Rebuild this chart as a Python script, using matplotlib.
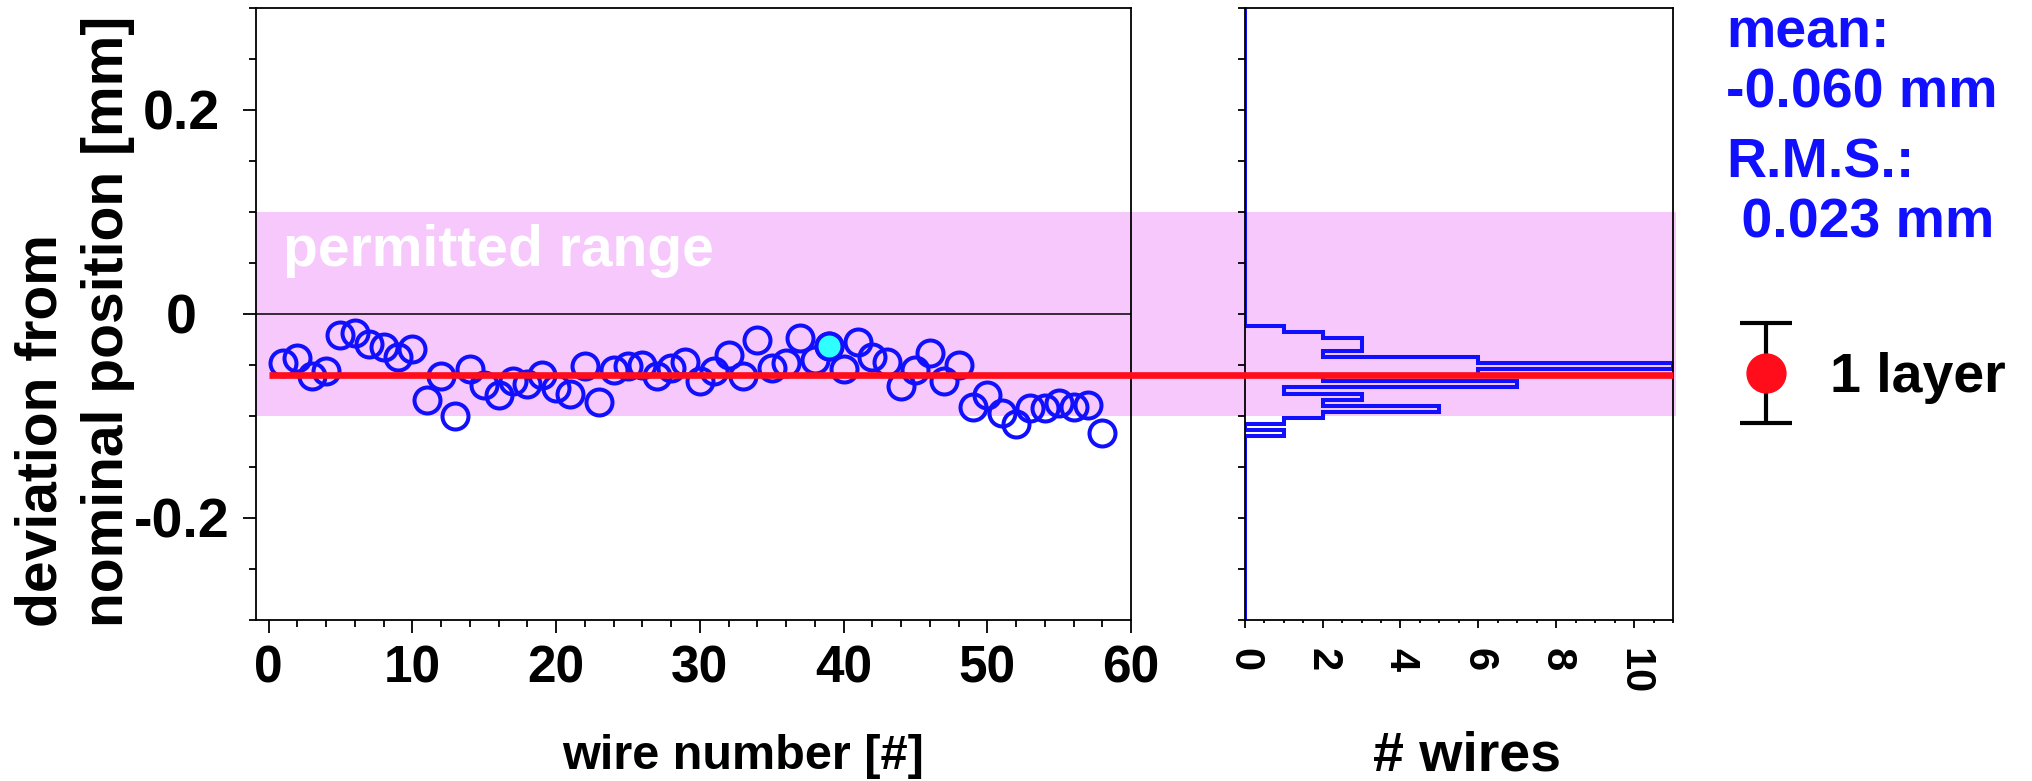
import matplotlib
matplotlib.use('Agg')
import matplotlib.pyplot as plt
import matplotlib.transforms as mtransforms
from matplotlib.lines import Line2D
from matplotlib.patches import Rectangle
from matplotlib.ticker import MultipleLocator
from matplotlib.legend_handler import HandlerErrorbar
import numpy as np

plt.rcParams['font.family'] = ['Liberation Sans', 'DejaVu Sans']
plt.rcParams['font.weight'] = 'bold'
plt.rcParams['axes.labelweight'] = 'bold'

# deviation of each wire from its nominal position [mm]
wire = list(range(1, 59))
deviation = [-0.048, -0.043, -0.061, -0.056, -0.021, -0.019, -0.029, -0.032, -0.042, -0.034,
             -0.084, -0.061, -0.100, -0.054, -0.070, -0.079, -0.066, -0.069, -0.060, -0.073,
             -0.078, -0.051, -0.086, -0.055, -0.051, -0.050, -0.061, -0.053, -0.047, -0.066,
             -0.056, -0.040, -0.061, -0.025, -0.053, -0.048, -0.024, -0.045, -0.031, -0.054,
             -0.027, -0.042, -0.047, -0.071, -0.055, -0.038, -0.066, -0.050, -0.091, -0.079,
             -0.097, -0.108, -0.092, -0.092, -0.087, -0.091, -0.089, -0.117]
highlight_wire = [39]
highlight_dev = [-0.031]

# histogram of the deviations: upper edge of each bin and its count
bin_width = 0.006
hist_top = [-0.012, -0.018, -0.024, -0.030, -0.036, -0.042, -0.048, -0.054, -0.060,
            -0.066, -0.072, -0.078, -0.084, -0.090, -0.096, -0.102, -0.108, -0.114]
hist_count = [1, 2, 3, 3, 2, 6, 11, 6, 2, 7, 1, 3, 2, 5, 2, 1, 0, 1]

mean_dev = -0.060
rms_dev = 0.023
tolerance = 0.1

blue = '#1010FF'
red = '#FF0D1A'
pink = '#F7C8FC'
cyan = '#30FFFF'

W, H = 2033, 781
fig = plt.figure(figsize=(W / 100, H / 100), dpi=100)
ax1 = fig.add_axes([255.7 / W, 161 / H, (1131 - 255.7) / W, 612 / H])
ax2 = fig.add_axes([1244.7 / W, 161 / H, (1673 - 1244.7) / W, 612 / H])
for ax in (ax1, ax2):
    ax.set_facecolor('none')
    ax.set_ylim(-0.3, 0.3)
    for s in ax.spines.values():
        s.set_linewidth(1.3)
ax1.set_xlim(-0.9, 60)
ax2.set_xlim(0, 11)

# permitted range band and mean line, spanning both panels
band_tr = mtransforms.blended_transform_factory(fig.transFigure, ax1.transData)
p1 = ax1.get_position()
p2 = ax2.get_position()
fig.add_artist(Rectangle((p1.x0, -tolerance), p2.x1 + 3 / W - p1.x0, 2 * tolerance,
                         transform=band_tr, facecolor=pink, edgecolor='none', zorder=-1))
x0 = p1.x0 + (0 - ax1.get_xlim()[0]) / np.ptp(ax1.get_xlim()) * p1.width
fig.add_artist(Line2D([x0, p2.x1], [mean_dev, mean_dev], transform=band_tr,
                      color=red, lw=4.8, solid_capstyle='butt', zorder=5))

# scatter panel
ax1.axhline(0, color='black', lw=1.1, zorder=1)
ax1.plot(wire, deviation, 'o', mfc='none', mec=blue, ms=18.7, mew=2.9, zorder=2)
ax1.plot(highlight_wire, highlight_dev, 'o', mfc=cyan, mec=blue, ms=18.7, mew=2.9, zorder=3)
ax1.text(1.0, 0.047, 'permitted range', color='white', fontsize=41, va='baseline')

ax1.set_yticks([-0.2, 0, 0.2], ['-0.2', '0', '0.2'], ha='center')
ax1.yaxis.set_minor_locator(MultipleLocator(0.05))
ax1.xaxis.set_major_locator(MultipleLocator(10))
ax1.xaxis.set_minor_locator(MultipleLocator(2))
ax1.tick_params(which='both', direction='out', width=1.3, top=False, right=False)
ax1.tick_params(which='major', length=9.4)
ax1.tick_params(which='minor', length=5)
ax1.tick_params(axis='y', labelsize=40, pad=44)
ax1.tick_params(axis='x', labelsize=37, pad=8)
ax1.set_xlabel('wire number [#]', fontsize=35, va='baseline')
ax1.xaxis.set_label_coords(0.557, -0.2435)

# histogram panel
edges = np.linspace(-0.3, 0.3, 101)
counts = np.zeros(100)
for top, c in zip(hist_top, hist_count):
    counts[int(round((top - bin_width - edges[0]) / bin_width))] = c
ax2.stairs(counts, edges, orientation='horizontal', baseline=0, color=blue, lw=2.9)

ax2.set_yticks([-0.2, 0, 0.2])
ax2.yaxis.set_minor_locator(MultipleLocator(0.05))
ax2.set_yticklabels([])
ax2.xaxis.set_major_locator(MultipleLocator(2))
ax2.xaxis.set_minor_locator(MultipleLocator(0.5))
ax2.tick_params(which='both', direction='out', width=1.3, top=False, right=False)
ax2.tick_params(axis='y', which='both', length=5)
ax2.tick_params(axis='x', which='major', length=5.5)
ax2.tick_params(axis='x', which='minor', length=2.5)
ax2.tick_params(axis='x', labelsize=30, labelrotation=-90, pad=15)
ax2.set_xlabel('# wires', fontsize=40, va='baseline')
ax2.xaxis.set_label_coords(0.518, -0.2467)

# y label
fig.text(75 / W, 1 - 627 / H, 'deviation from\nnominal position [mm]', rotation=90,
         ha='center', va='bottom', multialignment='left', fontsize=41, linespacing=1.3)

# statistics text
stats = ['mean:', '%.3f mm' % mean_dev, 'R.M.S.:', ' %.3f mm' % rms_dev]
baselines = [47, 108, 177, 238]
for s, b in zip(stats, baselines):
    fig.text(1726 / W, 1 - b / H, s, color=blue, fontsize=40, va='baseline')

# legend entry: one layer, mean +- rms
eb = ax1.errorbar([np.nan], [np.nan], yerr=[rms_dev], fmt='o', color=red, ms=28,
                  ecolor='black', elinewidth=3, capsize=18.7, capthick=3)
fig.legend([eb], ['1 layer'], loc='lower left', bbox_to_anchor=(1724.3 / W, 1 - 404 / H),
           frameon=False, fontsize=40, borderpad=0, borderaxespad=0,
           handlelength=1.5, handletextpad=0.4,
           handler_map={type(eb): HandlerErrorbar(yerr_size=0.9)})

fig.savefig('out.png', dpi=100)
